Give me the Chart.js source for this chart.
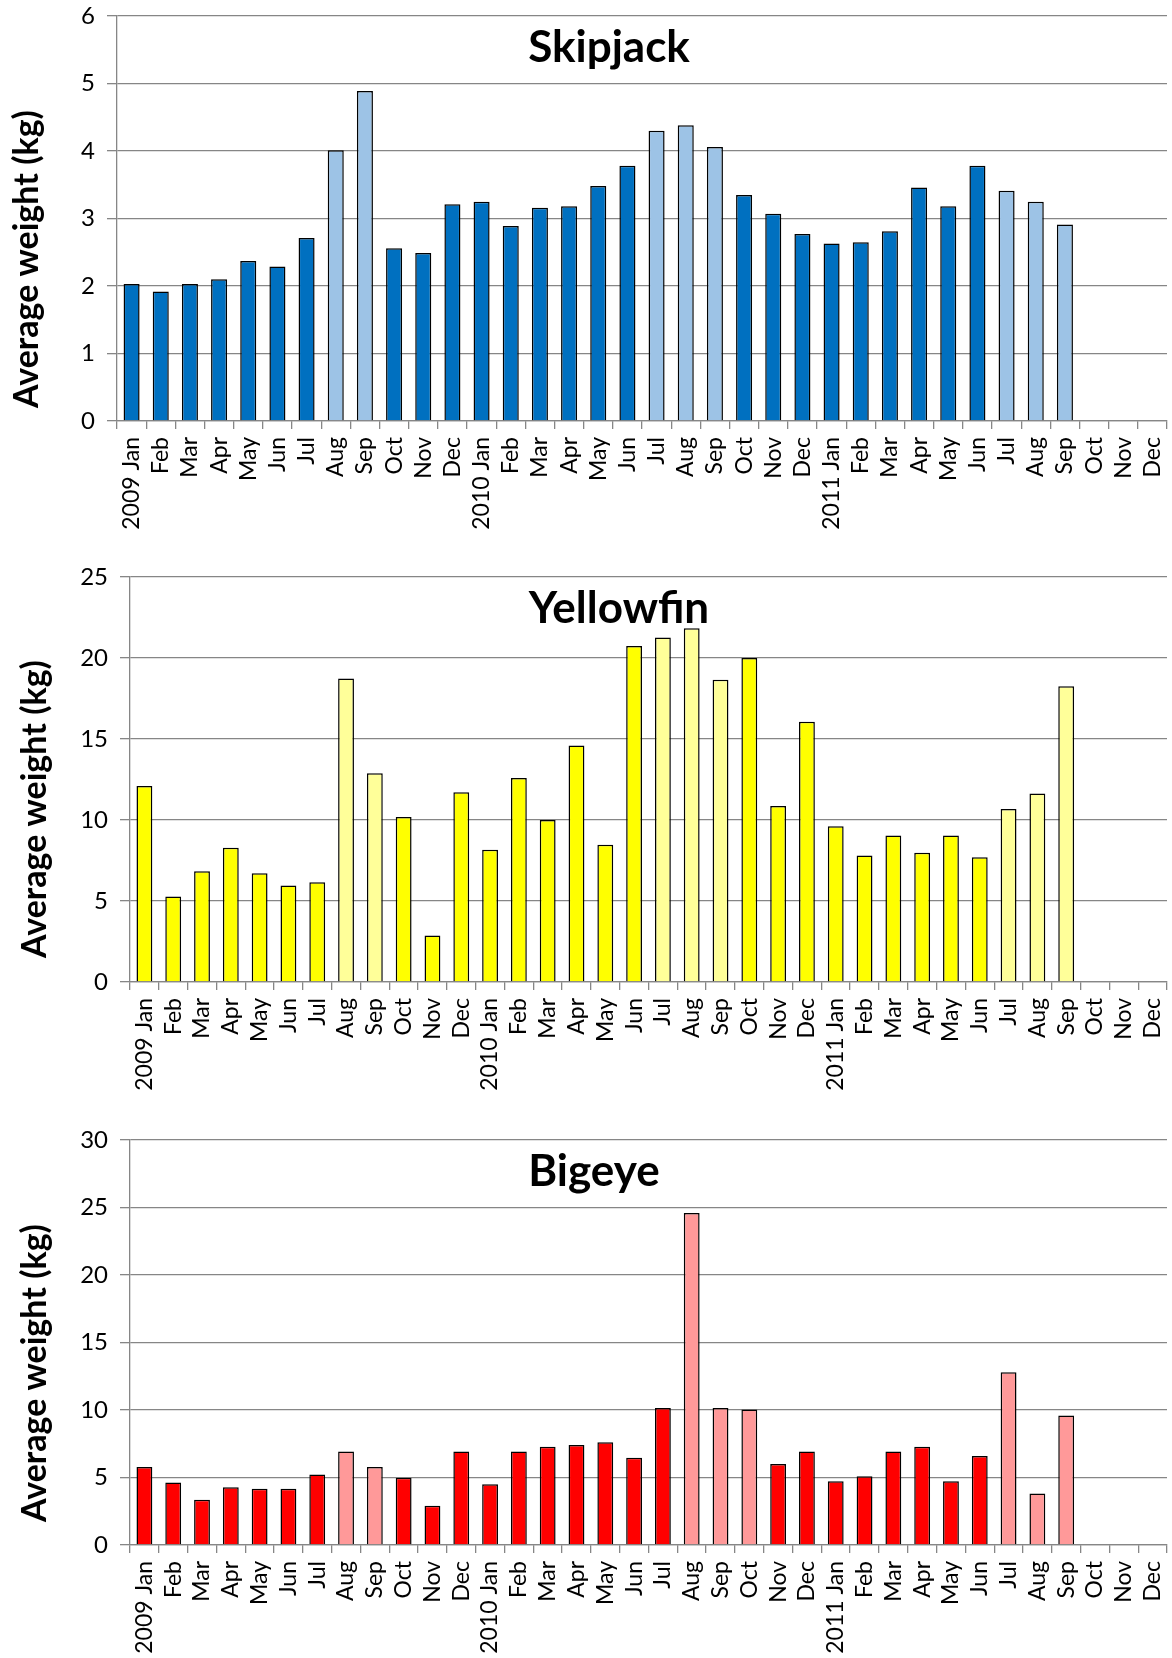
<!DOCTYPE html>
<html lang="en">
<head>
<meta charset="UTF-8">
<title>Average weight by month</title>
<script src="https://cdn.jsdelivr.net/npm/chart.js@4.4.0/dist/chart.umd.min.js"></script>
<style>
    body { margin: 0; background: #fff; }
    .panel { position: absolute; left: 0; width: 1172px; height: 540px; }
</style>
</head>
<body>
<div class="panel" style="top:0px"><canvas id="skipjackChart"></canvas></div>
<div class="panel" style="top:562px"><canvas id="yellowfinChart"></canvas></div>
<div class="panel" style="top:1124px"><canvas id="bigeyeChart"></canvas></div>
<script>
    let months = ['2009 Jan', 'Feb', 'Mar', 'Apr', 'May', 'Jun', 'Jul', 'Aug', 'Sep', 'Oct', 'Nov', 'Dec',
        '2010 Jan', 'Feb', 'Mar', 'Apr', 'May', 'Jun', 'Jul', 'Aug', 'Sep', 'Oct', 'Nov', 'Dec',
        '2011 Jan', 'Feb', 'Mar', 'Apr', 'May', 'Jun', 'Jul', 'Aug', 'Sep', 'Oct', 'Nov', 'Dec'];

    // average weight (kg) per month
    let skipjack = [2.03, 1.92, 2.03, 2.10, 2.37, 2.29, 2.71, 4.01, 4.89, 2.56, 2.49, 3.21,
        3.25, 2.89, 3.16, 3.18, 3.48, 3.78, 4.30, 4.38, 4.06, 3.35, 3.07, 2.77,
        2.63, 2.65, 2.81, 3.46, 3.18, 3.78, 3.41, 3.25, 2.91, null, null, null];
    let yellowfin = [12.1, 5.28, 6.83, 8.28, 6.72, 5.96, 6.15, 18.74, 12.89, 10.19, 2.87, 11.72,
        8.17, 12.6, 10.0, 14.6, 8.47, 20.74, 21.26, 21.83, 18.66, 20.0, 10.87, 16.06,
        9.62, 7.81, 9.04, 7.98, 9.04, 7.70, 10.68, 11.64, 18.26, null, null, null];
    let bigeye = [5.78, 4.63, 3.36, 4.27, 4.17, 4.17, 5.22, 6.92, 5.78, 4.99, 2.90, 6.92,
        4.50, 6.92, 7.28, 7.40, 7.61, 6.46, 10.15, 24.6, 10.15, 10.03, 6.0, 6.92,
        4.73, 5.09, 6.92, 7.28, 4.73, 6.59, 12.8, 3.82, 9.59, null, null, null];

    // months shown in the paler shade (1 = pale)
    let skipjackPale = [0, 0, 0, 0, 0, 0, 0, 1, 1, 0, 0, 0, 0, 0, 0, 0, 0, 0, 1, 1, 1, 0, 0, 0, 0, 0, 0, 0, 0, 0, 1, 1, 1, 0, 0, 0];
    let yellowfinPale = [0, 0, 0, 0, 0, 0, 0, 1, 1, 0, 0, 0, 0, 0, 0, 0, 0, 0, 1, 1, 1, 0, 0, 0, 0, 0, 0, 0, 0, 0, 1, 1, 1, 0, 0, 0];
    let bigeyePale = [0, 0, 0, 0, 0, 0, 0, 1, 1, 0, 0, 0, 0, 0, 0, 0, 0, 0, 0, 1, 1, 1, 0, 0, 0, 0, 0, 0, 0, 0, 1, 1, 1, 0, 0, 0];

    let skipjackTicks = [0, 1, 2, 3, 4, 5, 6];
    let yellowfinTicks = [0, 5, 10, 15, 20, 25];
    let bigeyeTicks = [0, 5, 10, 15, 20, 25, 30];

    Chart.defaults.font.family = 'Lato, "Liberation Sans", sans-serif';
    Chart.defaults.color = '#000';

    const gridColor = '#868686';

    // draws the title inside the plot and the rotated y axis title
    const panelText = {
        id: 'panelText',
        afterDraw(chart, args, o) {
            let ctx = chart.ctx;
            let area = chart.chartArea;
            ctx.save();
            ctx.fillStyle = '#000';
            ctx.textAlign = 'center';
            ctx.textBaseline = 'alphabetic';
            ctx.font = 'bold 44px Lato, "Liberation Sans", sans-serif';
            ctx.fillText(o.title, o.titleX, area.top + 46);
            ctx.translate(o.axisX, area.top + o.axisY);
            ctx.rotate(-Math.PI / 2);
            ctx.textBaseline = 'middle';
            ctx.font = 'bold 34px Lato, "Liberation Sans", sans-serif';
            ctx.fillText('Average weight (kg)', 0, 0);
            ctx.restore();
        }
    };

    let noPadding = (s) => {
        s.paddingLeft = 0;
        s.paddingRight = 0;
        s.paddingTop = 0;
        s.paddingBottom = 0;
    };

    let makeChart = (id, values, pale, dark, light, ticks, look) => {
        let colors = pale.map(p => p ? light : dark);
        let xHeight = 540 - look.padTop - 405;
        return new Chart(document.getElementById(id).getContext('2d'), {
            type: 'bar',
            data: {
                labels: months,
                datasets: [{
                    data: values,
                    backgroundColor: colors,
                    borderColor: '#000',
                    borderWidth: 1.5,
                    barPercentage: 0.55,
                    categoryPercentage: 1
                }]
            },
            options: {
                responsive: true,
                maintainAspectRatio: false,
                animation: false,
                layout: { padding: { top: look.padTop, right: 5, left: 0, bottom: 0 } },
                plugins: {
                    legend: { display: false },
                    tooltip: { enabled: false },
                    panelText: look
                },
                scales: {
                    x: {
                        offset: true,
                        grid: { offset: true, drawOnChartArea: false, tickLength: 8, color: gridColor, lineWidth: 1.3 },
                        border: { color: gridColor, width: 1.3 },
                        ticks: { autoSkip: false, minRotation: 90, maxRotation: 90, padding: 8, font: { size: 23 } },
                        afterFit(s) { s.height = xHeight; noPadding(s); }
                    },
                    y: {
                        min: ticks[0],
                        max: ticks[ticks.length - 1],
                        grid: { color: gridColor, lineWidth: 1.3, tickLength: 10 },
                        border: { color: gridColor, width: 1.3 },
                        ticks: { stepSize: ticks[1] - ticks[0], padding: 12, font: { size: 24 } },
                        afterFit(s) { s.width = look.yWidth; noPadding(s); }
                    }
                }
            },
            plugins: [panelText]
        });
    };

    makeChart('skipjackChart', skipjack, skipjackPale, '#0070C0', '#9DC3E6', skipjackTicks,
        { title: 'Skipjack', titleX: 609, padTop: 16, yWidth: 117, axisX: 27, axisY: 243 });
    makeChart('yellowfinChart', yellowfin, yellowfinPale, '#FFFF00', '#FFFF99', yellowfinTicks,
        { title: 'Yellowfin', titleX: 619, padTop: 15, yWidth: 130, axisX: 35, axisY: 232 });
    makeChart('bigeyeChart', bigeye, bigeyePale, '#FF0000', '#FF9999', bigeyeTicks,
        { title: 'Bigeye', titleX: 594, padTop: 16, yWidth: 130, axisX: 35, axisY: 233 });
</script>
</body>
</html>
